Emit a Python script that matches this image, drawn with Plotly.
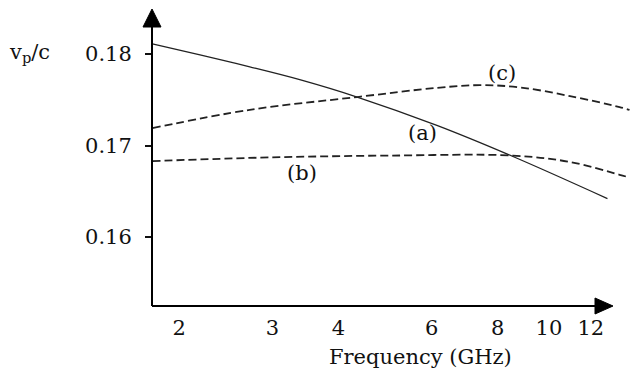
import plotly.graph_objects as go

# ---- data ----
freq_a = [1.78, 2.19, 2.72, 3.38, 4.34, 6.14, 8.55, 12.9]
vp_a = [0.1811, 0.1799, 0.1786, 0.1772, 0.1753, 0.1722, 0.1688, 0.1642]

freq_b = [1.78, 2.97, 5.00, 8.55, 10.96, 13.6, 14.2]
vp_b = [0.1683, 0.1687, 0.1689, 0.1689, 0.1682, 0.1668, 0.1665]

freq_c = [1.78, 2.72, 4.34, 6.14, 7.41, 8.82, 10.96, 13.6, 14.2]
vp_c = [0.1719, 0.1739, 0.1753, 0.1763, 0.1766, 0.17635, 0.1754, 0.1742, 0.1739]

x_ticks = [2, 3, 4, 6, 8, 10, 12]
x_ticktext = ["2", "3", "4", "6", "8", "10", "12"]
y_ticks = [0.16, 0.17, 0.18]
y_ticktext = ["0.16", "0.17", "0.18"]

curve_labels = ["(a)", "(b)", "(c)"]

FONT = "DejaVu Serif"
FS = 21
W, H = 631, 375
L, R, T, B = 152, 0, 10, 69
PW, PH = W - L - R, H - T - B


def px(x):
    return (x - L) / PW


def py(y):
    return (H - B - y) / PH


fig = go.Figure()
fig.add_trace(go.Scatter(x=freq_a, y=vp_a, mode="lines",
                         line=dict(color="#222", width=1.3, shape="spline", smoothing=1.0)))
fig.add_trace(go.Scatter(x=freq_b, y=vp_b, mode="lines",
                         line=dict(color="#222", width=1.8, dash="8px,4px", shape="spline", smoothing=1.0)))
fig.add_trace(go.Scatter(x=freq_c, y=vp_c, mode="lines",
                         line=dict(color="#222", width=1.8, dash="8px,4px", shape="spline", smoothing=1.0)))

fig.update_xaxes(type="log", range=[0.2497, 1.1551], tickvals=x_ticks, ticktext=x_ticktext,
                 showgrid=False, zeroline=False, showline=False, ticks="",
                 tickfont=dict(family=FONT, size=FS, color="#111"), ticklabelstandoff=7)
fig.update_yaxes(range=[0.15246, 0.18481], tickvals=y_ticks, ticktext=y_ticktext,
                 showgrid=False, zeroline=False, showline=False, ticks="outside",
                 ticklen=6, tickwidth=2, tickcolor="#111",
                 tickfont=dict(family=FONT, size=FS, color="#111"), ticklabelstandoff=9)

shapes = [
    dict(type="line", xref="paper", yref="paper", x0=0, y0=0, x1=0, y1=py(24),
         line=dict(color="#000", width=2)),
    dict(type="path", xref="paper", yref="paper",
         path=f"M {px(143)},{py(27)} L {px(152)},{py(9)} L {px(161)},{py(27)} Z",
         fillcolor="#000", line=dict(color="#000", width=1)),
    dict(type="line", xref="paper", yref="paper", x0=0, y0=0, x1=px(597), y1=0,
         line=dict(color="#000", width=2)),
    dict(type="path", xref="paper", yref="paper",
         path=f"M {px(595)},{py(298)} L {px(613)},{py(306)} L {px(595)},{py(314)} Z",
         fillcolor="#000", line=dict(color="#000", width=1)),
]

label_pos = {"(a)": (422, 133), "(b)": (302, 173), "(c)": (502, 73)}
annotations = []
for lab in curve_labels:
    x, y = label_pos[lab]
    annotations.append(dict(x=px(x), y=py(y), xref="paper", yref="paper", text=lab,
                            showarrow=False, font=dict(family=FONT, size=FS, color="#111"),
                            xanchor="center", yanchor="middle"))
annotations.append(dict(x=px(420), y=py(357), xref="paper", yref="paper", text="Frequency (GHz)",
                        showarrow=False, font=dict(family=FONT, size=FS, color="#111"),
                        xanchor="center", yanchor="middle"))
annotations.append(dict(x=px(7), y=py(53), xref="paper", yref="paper", text="v<sub>p</sub>/c",
                        showarrow=False, font=dict(family=FONT, size=FS, color="#111"),
                        xanchor="left", yanchor="middle"))

fig.update_layout(width=W, height=H, margin=dict(l=L, r=R, t=T, b=B),
                  paper_bgcolor="white", plot_bgcolor="white", showlegend=False,
                  font=dict(family=FONT),
                  shapes=shapes, annotations=annotations)

fig.write_html("out.html", config={"displayModeBar": False},
               post_script="document.body.style.margin='0';document.body.style.padding='0';")
